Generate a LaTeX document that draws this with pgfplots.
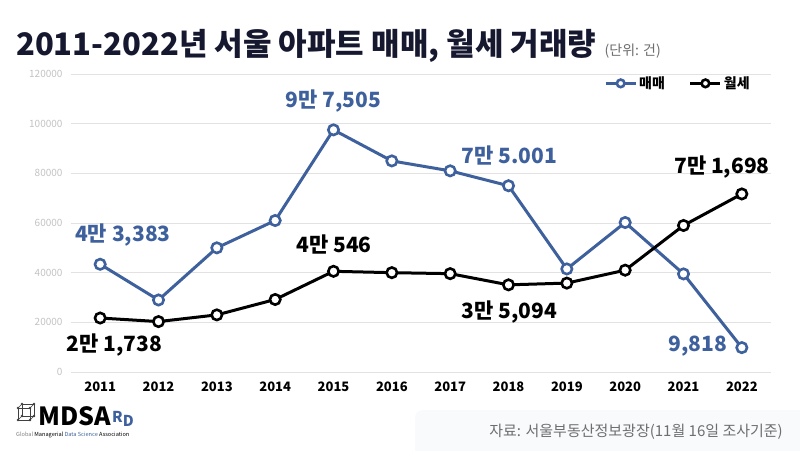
\documentclass[border=0pt]{standalone}
\usepackage{fontspec}
\usepackage{pgfplots}
\pgfplotsset{compat=1.18}
\setmainfont{Noto Sans CJK KR}
\definecolor{mblue}{RGB}{62,97,158}
\definecolor{tgray}{RGB}{195,195,195}
\definecolor{gridc}{RGB}{226,226,226}
\definecolor{titlec}{RGB}{22,24,48}
\definecolor{srcbg}{RGB}{249,250,252}
\definecolor{srcc}{RGB}{110,110,110}
\begin{document}
\begin{tikzpicture}
\fill[white] (0pt,0pt) rectangle (800pt,450pt);
\begin{scope}
\clip (0pt,0pt) rectangle (800pt,450pt);
\fill[srcbg, rounded corners=8pt] (415pt,-10pt) rectangle (810pt,40pt);
\end{scope}
\path[use as bounding box] (0pt,0pt) rectangle (800pt,450pt);
\node[anchor=base west, font=\fontsize{31}{33}\selectfont\bfseries, text=titlec, inner sep=0] (T) at (16pt,394pt) {2011-2022년 서울 아파트 매매, 월세 거래량};
\node[anchor=base west, font=\fontsize{14}{16}\selectfont, text=srcc, inner sep=0] at ([xshift=8pt]T.base east) {(단위: 건)};
\node[anchor=east, font=\fontsize{15}{17}\selectfont, text=srcc, inner sep=0] at (783pt,18pt) {자료: 서울부동산정보광장(11월 16일 조사기준)};
% logo
\node[anchor=base west, font=\fontsize{25}{27}\selectfont\bfseries, inner sep=0] (L) at (38pt,25pt) {MDSA};
\node[anchor=base west, font=\fontsize{15}{17}\selectfont\bfseries, text=mblue, inner sep=0] at ([xshift=1pt,yshift=3pt]L.base east) {R\raisebox{-4pt}{D}};
\node[anchor=base west, font=\fontsize{5.6}{6}\selectfont, inner sep=0] at (16pt,14pt) {\textcolor{gray}{Global} Managerial \textcolor{mblue}{Data Science} Association};
\begin{scope}[line width=0.7pt, black!75]
\draw (18pt,30pt) rectangle (30pt,42pt);
\draw (22pt,34pt) rectangle (34pt,46pt);
\draw (18pt,30pt)--(22pt,34pt) (30pt,30pt)--(34pt,34pt) (18pt,42pt)--(22pt,46pt) (30pt,42pt)--(34pt,46pt);
\fill (18pt,30pt) circle (1.3pt) (30pt,30pt) circle (1.3pt) (18pt,42pt) circle (1.3pt) (30pt,42pt) circle (1.3pt) (22pt,34pt) circle (1.3pt) (34pt,34pt) circle (1.3pt) (22pt,46pt) circle (1.3pt) (34pt,46pt) circle (1.3pt);
\end{scope}
\begin{axis}[at={(71pt,78pt)}, anchor=south west, scale only axis,
  width=700pt, height=298pt,
  xmin=2010.5, xmax=2022.5, ymin=0, ymax=120000,
  axis line style={draw=none},
  ytick={0,20000,40000,60000,80000,100000,120000},
  yticklabels={0,20000,40000,60000,80000,100000,120000},
  xtick={2011,2012,2013,2014,2015,2016,2017,2018,2019,2020,2021,2022},
  xticklabels={2011,2012,2013,2014,2015,2016,2017,2018,2019,2020,2021,2022},
  ymajorgrids, grid style={gridc, line width=0.8pt},
  major tick length=0pt,
  scaled y ticks=false,
  yticklabel style={font=\fontsize{10}{12}\selectfont, text=tgray, xshift=-5pt},
  xticklabel style={font=\fontsize{13}{15}\selectfont\bfseries, yshift=-6pt},
  clip=false,
  legend style={at={(0.977,1.005)}, anchor=north east, draw=none, fill=none,
    legend columns=2, font=\fontsize{14}{16}\selectfont\bfseries,
    /tikz/every even column/.append style={column sep=22pt},
    legend cell align=left},
  legend image code/.code={
    \draw[#1, mark=none] (0pt,0pt) -- (30pt,0pt);
    \draw[#1, mark size=3.8pt] plot coordinates {(15pt,0pt)};
  },
]
\addplot[mblue, line width=3pt, mark=*, mark size=5.2pt, mark options={fill=white, draw=mblue, line width=2.6pt}]
coordinates {(2011,43383) (2012,29000) (2013,50000) (2014,61000) (2015,97505) (2016,85000) (2017,81000) (2018,75001) (2019,41500) (2020,60200) (2021,39500) (2022,9818)};
\addlegendentry{매매}
\addplot[black, line width=3pt, mark=*, mark size=5.2pt, mark options={fill=white, draw=black, line width=2.6pt}]
coordinates {(2011,21738) (2012,20300) (2013,23000) (2014,29200) (2015,40546) (2016,40000) (2017,39600) (2018,35094) (2019,35800) (2020,41000) (2021,59000) (2022,71698)};
\addlegendentry{월세}
\begin{scope}[every node/.style={font=\fontsize{21}{23}\selectfont\bfseries, inner sep=0}]
\node[text=mblue] at (axis cs:2011.39,55170) {4만 3,383};
\node[text=mblue] at (axis cs:2015.0,109140) {9만 7,505};
\node[text=mblue] at (axis cs:2018.01,87000) {7만 5.001};
\node[text=mblue] at (axis cs:2021.25,10470) {9,818};
\node at (axis cs:2011.24,10870) {2만 1,738};
\node at (axis cs:2015.01,51150) {4만 546};
\node at (axis cs:2018.01,24160) {3만 5,094};
\node at (axis cs:2021.66,82560) {7만 1,698};
\end{scope}
\end{axis}
\end{tikzpicture}
\end{document}
